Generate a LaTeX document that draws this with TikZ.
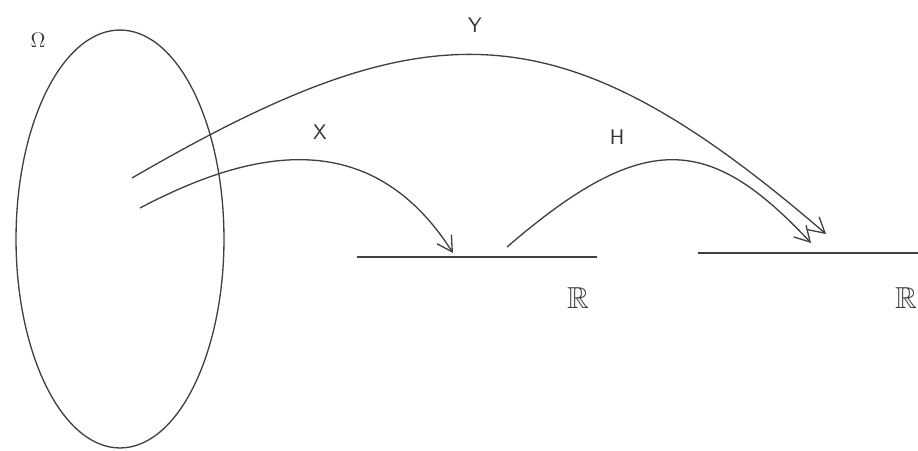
\documentclass[tikz,border=0pt]{standalone}
\usepackage{amssymb}
\usetikzlibrary{arrows.meta, shapes.geometric}

\begin{document}
\begin{tikzpicture}[
    x=0.02cm, y=-0.02cm,
    curve/.style={-{Straight Barb[length=3mm, width=3.4mm]}, line width=0.75pt, draw=black!75},
    axis/.style={line width=0.9pt, draw=black!75},
    lbl/.style={font=\sffamily\large, text=black!80},
    reals/.style={font=\LARGE, text=black!75}
]
\useasboundingbox (0,0) rectangle (918,450);

% sample space
\node[ellipse, draw=black!75, line width=0.75pt, minimum width=4.16cm, minimum height=8.36cm] (omega) at (120,239) {};
\node[lbl] (omegalbl) at (38,40) {$\Omega$};

% the two real lines
\coordinate (lineAa) at (357,257);
\coordinate (lineAb) at (597,257);
\coordinate (lineBa) at (698,253);
\coordinate (lineBb) at (918,253);
\draw[axis] (lineAa) -- (lineAb);
\draw[axis] (lineBa) -- (lineBb);
\node[reals] (realsA) at (578,298) {$\mathbb{R}$};
\node[reals] (realsB) at (906,298) {$\mathbb{R}$};

% maps
\coordinate (ystart) at (132,178);
\coordinate (xstart) at (140,208);
\coordinate (xend) at (453,253);
\coordinate (hstart) at (507,247);
\coordinate (hend) at (811,243);
\coordinate (yend) at (826,234);

\draw[curve] (xstart) .. controls (250,150) and (370,123) .. (xend);
\draw[curve] (hstart) .. controls (645,128) and (710,135) .. (hend);
\draw[curve] (ystart) .. controls (430,5) and (560,5) .. (yend);

\node[lbl] (xlbl) at (320,132) {X};
\node[lbl] (hlbl) at (617,137) {H};
\node[lbl] (ylbl) at (475,25) {Y};

\end{tikzpicture}
\end{document}
